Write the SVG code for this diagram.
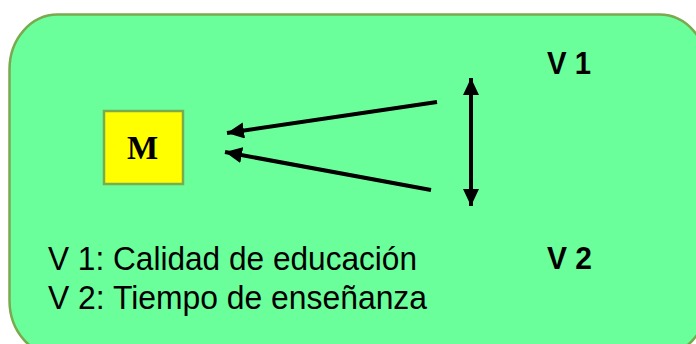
<svg xmlns="http://www.w3.org/2000/svg" width="696" height="344" viewBox="0 0 696 344">
<style>
.bg{fill:#6bff9c;stroke:#7aa94e;stroke-width:2.5}
.box{fill:#ffff00;stroke:#7aac4e;stroke-width:2.5}
.ln{stroke:#000;stroke-width:4;fill:none}
.lbl{font-family:"Liberation Sans",Arial,sans-serif;font-size:33px;fill:#000}
.b{font-weight:bold;font-size:32px}
.m{font-family:"Liberation Serif","Times New Roman",serif;font-size:33px;font-weight:bold;fill:#000}
</style>
<defs>
<marker id="ah" markerUnits="userSpaceOnUse" markerWidth="20" markerHeight="18" refX="17" refY="8" orient="auto-start-reverse">
<path d="M0,0 L17,8 L0,16 Z" fill="#000"/>
</marker>
</defs>
<rect class="bg" x="9.5" y="14.5" width="698" height="341" rx="48" ry="55"/>
<g id="node-M">
<rect class="box" x="104" y="111" width="79" height="73"/>
<text class="m" x="142.5" y="159" text-anchor="middle">M</text>
</g>
<g id="node-V1"><text class="lbl b" x="547" y="74" textLength="44" lengthAdjust="spacingAndGlyphs">V 1</text></g>
<g id="node-V2"><text class="lbl b" x="547" y="269" textLength="45" lengthAdjust="spacingAndGlyphs">V 2</text></g>
<g id="legend">
<text class="lbl" x="48" y="270" textLength="369" lengthAdjust="spacingAndGlyphs">V 1: Calidad de educación</text>
<text class="lbl" x="48" y="309" textLength="379" lengthAdjust="spacingAndGlyphs">V 2: Tiempo de enseñanza</text>
</g>
<g id="connectors">
<line class="ln" x1="437" y1="102" x2="227" y2="133" marker-end="url(#ah)"/>
<line class="ln" x1="431" y1="190" x2="225" y2="152" marker-end="url(#ah)"/>
<line class="ln" x1="471" y1="78" x2="471" y2="206" marker-start="url(#ah)" marker-end="url(#ah)"/>
</g>
</svg>
